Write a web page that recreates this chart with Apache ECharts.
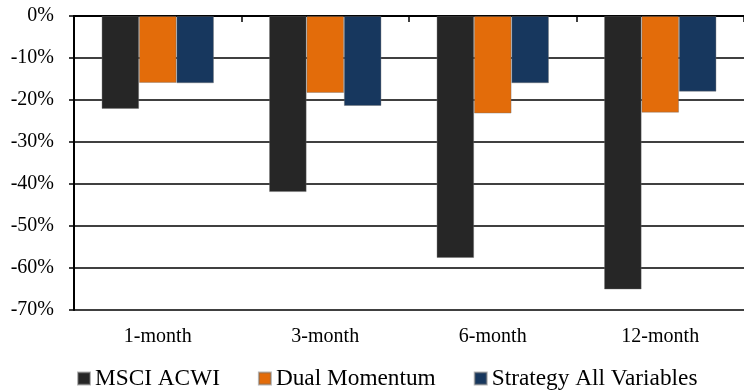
<!DOCTYPE html>
<html>
<head>
<meta charset="utf-8">
<script src="https://cdn.jsdelivr.net/npm/echarts@6/dist/echarts.min.js"></script>
<style>
  html, body { margin: 0; padding: 0; background: #fff; }
  #chart { width: 744px; height: 391px; }
</style>
</head>
<body>
<div id="chart"></div>
<script>
const categories = ['1-month', '3-month', '6-month', '12-month']
const msciAcwi = [-22.1, -41.9, -57.6, -65.1]
const dualMomentum = [-15.9, -18.3, -23.2, -23.0]
const strategyAll = [-16.0, -21.4, -16.0, -18.0]

const seriesNames = ['MSCI ACWI', 'Dual Momentum', 'Strategy All Variables']
const colors = ['#262626', '#E36C0A', '#17375E']

const font = 'Liberation Serif'
const chart = echarts.init(document.getElementById('chart'))

const option = {
  animation: false,
  textStyle: { fontFamily: font },
  legend: {
    data: seriesNames,
    left: 72,
    top: 362,
    itemWidth: 12,
    itemHeight: 12,
    itemGap: 38,
    icon: 'rect',
    textStyle: { fontFamily: font, fontSize: 23.3, color: '#000' }
  },
  grid: { left: 74, right: 0, top: 16, bottom: 81 },
  xAxis: [
    {
      type: 'category',
      data: categories,
      position: 'bottom',
      axisLine: { lineStyle: { color: '#000', width: 2 } },
      axisTick: { show: false },
      axisLabel: { fontFamily: font, fontSize: 20, color: '#000', margin: 17 }
    },
    {
      type: 'category',
      data: categories,
      position: 'top',
      axisLine: { lineStyle: { color: '#000', width: 1.5 } },
      axisTick: { show: true, inside: true, length: 6, lineStyle: { color: '#000', width: 1.5 } },
      axisLabel: { show: false }
    }
  ],
  yAxis: {
    type: 'value',
    min: -70,
    max: 0,
    interval: 10,
    axisLine: { show: true, lineStyle: { color: '#000', width: 2 } },
    axisTick: { show: true, length: 5, lineStyle: { color: '#000', width: 1.5 } },
    splitLine: { lineStyle: { color: '#000', width: 1.5 } },
    axisLabel: {
      fontFamily: font, fontSize: 20, color: '#000', margin: 20,
      formatter: v => v + '%'
    }
  },
  series: [msciAcwi, dualMomentum, strategyAll].map((data, i) => ({
    name: seriesNames[i],
    type: 'bar',
    xAxisIndex: 0,
    data,
    barGap: '0%',
    barCategoryGap: '33%',
    itemStyle: { color: colors[i], borderColor: 'rgba(110,110,110,0.5)', borderWidth: 0.8 }
  }))
}
chart.setOption(option)
</script>
</body>
</html>
